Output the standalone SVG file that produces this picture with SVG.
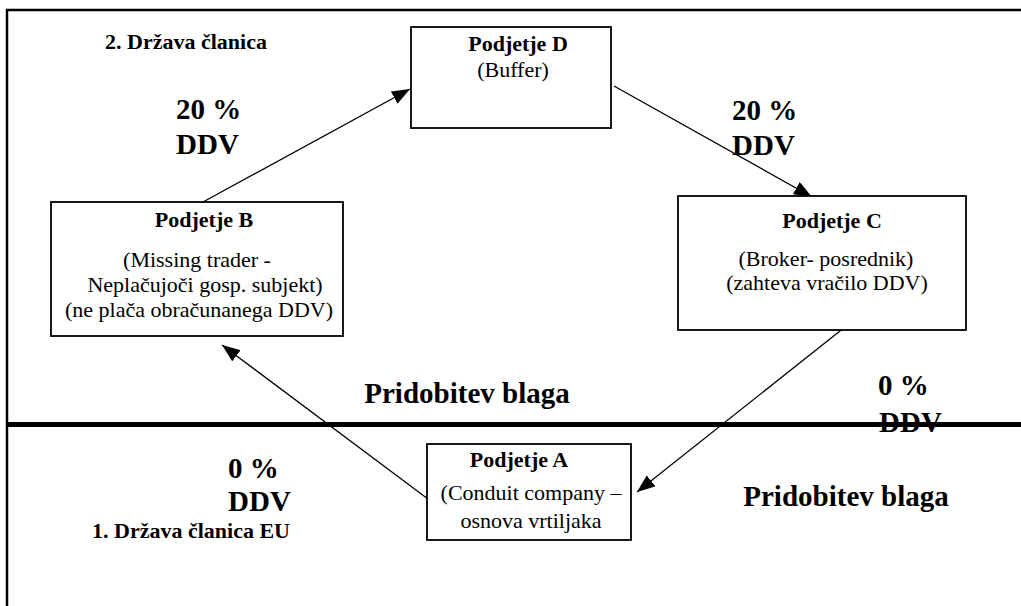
<svg xmlns="http://www.w3.org/2000/svg" width="1021" height="606" viewBox="0 0 1021 606">
<style>
text{font-family:"Liberation Serif","Times New Roman",serif;fill:#000}
.t{font-size:22px;font-weight:bold;text-anchor:middle}
.r{font-size:22px;text-anchor:middle}
.big{font-size:29px;font-weight:bold}
.lbl{font-size:22px;font-weight:bold}
.box{fill:#fff;stroke:#000;stroke-width:1.8}
.con{stroke:#000;stroke-width:1.3;fill:none;marker-end:url(#ah)}
</style>
<defs>
<marker id="ah" viewBox="0 0 18 14" refX="18" refY="7" markerWidth="18" markerHeight="14" markerUnits="userSpaceOnUse" orient="auto">
<path d="M0,0 L18,7 L0,14 Z" fill="#000"/>
</marker>
</defs>
<rect width="1021" height="606" fill="#fff"/>
<path d="M7,606 V10 H1021" fill="none" stroke="#000" stroke-width="2.5"/>
<g id="labels">
<text class="lbl" x="105" y="49">2. Država članica</text>
<text class="big" x="176" y="119">20 %</text>
<text class="big" x="176" y="154">DDV</text>
<text class="big" x="732" y="120">20 %</text>
<text class="big" x="732" y="155">DDV</text>
<text class="big" x="467" y="403" text-anchor="middle">Pridobitev blaga</text>
<text class="big" x="878" y="395">0 %</text>
<text class="big" x="879" y="432">DDV</text>
<text class="big" x="228" y="478">0 %</text>
<text class="big" x="228" y="511">DDV</text>
<text class="lbl" x="92" y="538">1. Država članica EU</text>
<text class="big" x="846" y="506" text-anchor="middle">Pridobitev blaga</text>
</g>
<rect x="7" y="422" width="1014" height="5" fill="#000"/>
<g id="connectors">
<line class="con" x1="203" y1="202" x2="410" y2="89"/>
<line class="con" x1="614" y1="86" x2="812" y2="197"/>
<line class="con" x1="845" y1="327" x2="637" y2="492"/>
<line class="con" x1="428" y1="499" x2="222" y2="345"/>
</g>
<g id="node-d">
<rect class="box" x="411" y="27" width="200" height="101"/>
<text class="t" x="518" y="51">Podjetje D</text>
<text class="r" x="513" y="77">(Buffer)</text>
</g>
<g id="node-b">
<rect class="box" x="51" y="202" width="292" height="134"/>
<text class="t" x="204" y="227">Podjetje B</text>
<text class="r" x="197" y="267">(Missing trader -</text>
<text class="r" x="205" y="292">Neplačujoči gosp. subjekt)</text>
<text class="r" x="199" y="317">(ne plača obračunanega DDV)</text>
</g>
<g id="node-c">
<rect class="box" x="678" y="196" width="288" height="134"/>
<text class="t" x="832" y="228">Podjetje C</text>
<text class="r" x="826" y="266">(Broker- posrednik)</text>
<text class="r" x="827" y="290">(zahteva vračilo DDV)</text>
</g>
<g id="node-a">
<rect class="box" x="427" y="444" width="204" height="96"/>
<text class="t" x="519" y="467">Podjetje A</text>
<text class="r" x="531" y="500">(Conduit company –</text>
<text class="r" x="531" y="528">osnova vrtiljaka</text>
</g>
</svg>
